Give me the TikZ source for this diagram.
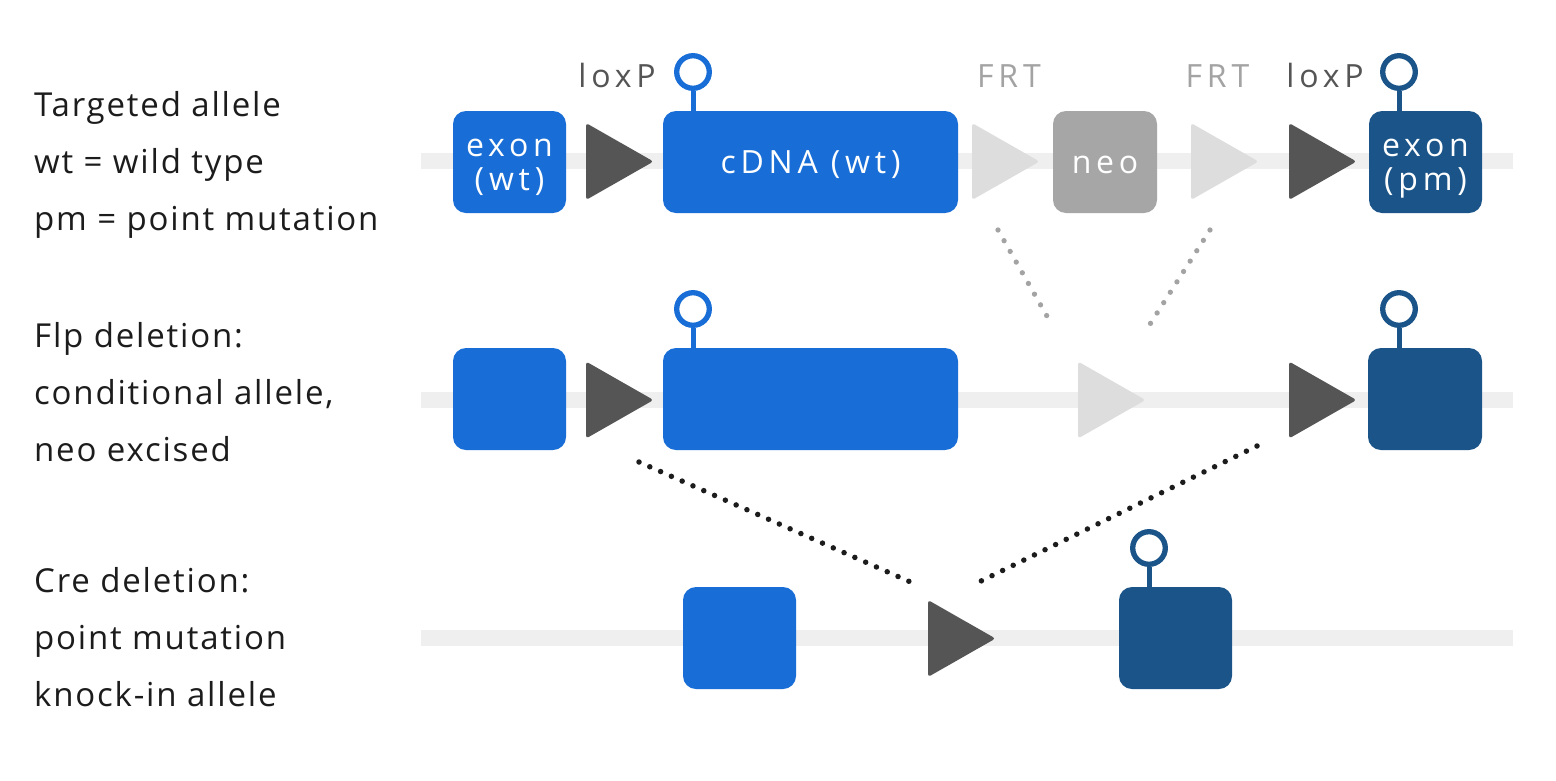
\documentclass[tikz,border=0pt]{standalone}
\usepackage{fontspec}
\setmainfont{Open Sans}
\newfontfamily\lblfont[LetterSpace=15]{Open Sans}
\newfontfamily\sidefont[LetterSpace=5.5]{Open Sans}
\definecolor{blu}{HTML}{186ED6}
\definecolor{dblu}{HTML}{1A5488}
\definecolor{neog}{HTML}{A6A6A6}
\definecolor{loxg}{HTML}{555555}
\definecolor{frtg}{HTML}{DDDDDD}
\definecolor{bbg}{HTML}{EFEFEF}
\definecolor{txt}{HTML}{1C1C1C}
\definecolor{frtt}{HTML}{A3A3A3}
\tikzset{
  backbone/.style={line width=16, color=bbg},
  genebox/.style={rectangle, rounded corners=13, inner sep=0, minimum height=102, text=white,
    font=\lblfont\fontsize{32}{34}\selectfont, text height=22, text depth=0, align=center},
  lolli/.style={circle, draw, line width=5.3, minimum size=32.6, inner sep=0, fill=white},
  stem/.style={line width=5},
  lefttxt/.style={anchor=base west, inner sep=0, text=txt, font=\sidefont\fontsize{33}{38}\selectfont},
  sitetxt/.style={anchor=base, inner sep=0, font=\lblfont\fontsize{32}{34}\selectfont},
  blackdots/.style={line width=5.5, line cap=round, dash pattern=on 0pt off 11.8pt, color=txt},
  graydots/.style={line width=5.3, line cap=round, dash pattern=on 0pt off 12.3pt, color=frtt},
  tri/.pic={\path[pic actions, rounded corners=3] (0,-38.5) -- (67.5,0) -- (0,38.5) -- cycle;}
}
\begin{document}
\begin{tikzpicture}[x=1pt,y=-1pt]
\useasboundingbox[fill=white] (0,0) rectangle (1556,780);

% left labels
\node[lefttxt] (l1a) at (34,116) {Targeted allele};
\node[lefttxt] (l1b) at (34,173) {wt = wild type};
\node[lefttxt] (l1c) at (34,230) {pm = point mutation};
\node[lefttxt] (l2a) at (34,347) {Flp deletion:};
\node[lefttxt] (l2b) at (34,404) {conditional allele,};
\node[lefttxt] (l2c) at (34,461) {neo excised};
\node[lefttxt] (l3a) at (34,592) {Cre deletion:};
\node[lefttxt] (l3b) at (34,649) {point mutation};
\node[lefttxt] (l3c) at (34,706) {knock-in allele};

% backbones
\coordinate (b1s) at (421,161); \coordinate (b1e) at (1513,161);
\coordinate (b2s) at (421,400); \coordinate (b2e) at (1513,400);
\coordinate (b3s) at (421,638); \coordinate (b3e) at (1513,638);
\draw[backbone] (b1s) -- (b1e);
\draw[backbone] (b2s) -- (b2e);
\draw[backbone] (b3s) -- (b3e);

% ---- row 1: targeted allele
\node[genebox, fill=blu, minimum width=113, text height=56] (r1e1) at (509.5,162) {exon\\(wt)};
\pic[fill=loxg] (r1lox1) at (586,161.5) {tri};
\node[genebox, fill=blu, minimum width=295] (r1cdna) at (810.5,162) {cDNA (wt)};
\pic[fill=frtg] (r1frt1) at (972,161.5) {tri};
\node[genebox, fill=neog, minimum width=104] (r1neo) at (1105,162) {neo};
\pic[fill=frtg] (r1frt2) at (1191,161.5) {tri};
\pic[fill=loxg] (r1lox2) at (1289,161.5) {tri};
\node[genebox, fill=dblu, minimum width=113, text height=56] (r1e2) at (1425.5,162) {exon\\(pm)};

\node[lolli, draw=blu] (r1p1) at (693,72) {};
\draw[stem, blu] (r1p1.south) -- (r1p1.south |- r1cdna.north);
\node[lolli, draw=dblu] (r1p2) at (1399,72) {};
\draw[stem, dblu] (r1p2.south) -- (r1p2.south |- r1e2.north);

\node[sitetxt, text=loxg] (t1) at (617,87) {loxP};
\node[sitetxt, text=frtt] (t2) at (1009,87) {FRT};
\node[sitetxt, text=frtt] (t3) at (1217.5,87) {FRT};
\node[sitetxt, text=loxg] (t4) at (1325,87) {loxP};

% ---- row 2: Flp deletion
\node[genebox, fill=blu, minimum width=113] (r2e1) at (509.5,399) {};
\pic[fill=loxg] (r2lox1) at (586,400) {tri};
\node[genebox, fill=blu, minimum width=295] (r2cdna) at (810.5,399) {};
\pic[fill=frtg] (r2frt) at (1078,400) {tri};
\pic[fill=loxg] (r2lox2) at (1289,400) {tri};
\node[genebox, fill=dblu, minimum width=114] (r2e2) at (1425,399) {};

\node[lolli, draw=blu] (r2p1) at (693,309) {};
\draw[stem, blu] (r2p1.south) -- (r2p1.south |- r2cdna.north);
\node[lolli, draw=dblu] (r2p2) at (1399,309) {};
\draw[stem, dblu] (r2p2.south) -- (r2p2.south |- r2e2.north);

% ---- row 3: Cre deletion
\node[genebox, fill=blu, minimum width=113] (r3e1) at (739.5,638) {};
\pic[fill=loxg] (r3lox) at (928,638.5) {tri};
\node[genebox, fill=dblu, minimum width=113] (r3e2) at (1175.5,638) {};
\node[lolli, draw=dblu] (r3p) at (1149,548) {};
\draw[stem, dblu] (r3p.south) -- (r3p.south |- r3e2.north);

% ---- recombination guides
\coordinate (g1a) at (998,230); \coordinate (g1b) at (1052,325);
\coordinate (g2a) at (1210,230); \coordinate (g2b) at (1145,332);
\draw[graydots] (g1a) -- (g1b);
\draw[graydots] (g2a) -- (g2b);
\coordinate (k1a) at (639,462); \coordinate (k1b) at (915,584);
\coordinate (k2a) at (1257,446); \coordinate (k2b) at (977,583);
\draw[blackdots] (k1a) -- (k1b);
\draw[blackdots] (k2a) -- (k2b);
\end{tikzpicture}
\end{document}
